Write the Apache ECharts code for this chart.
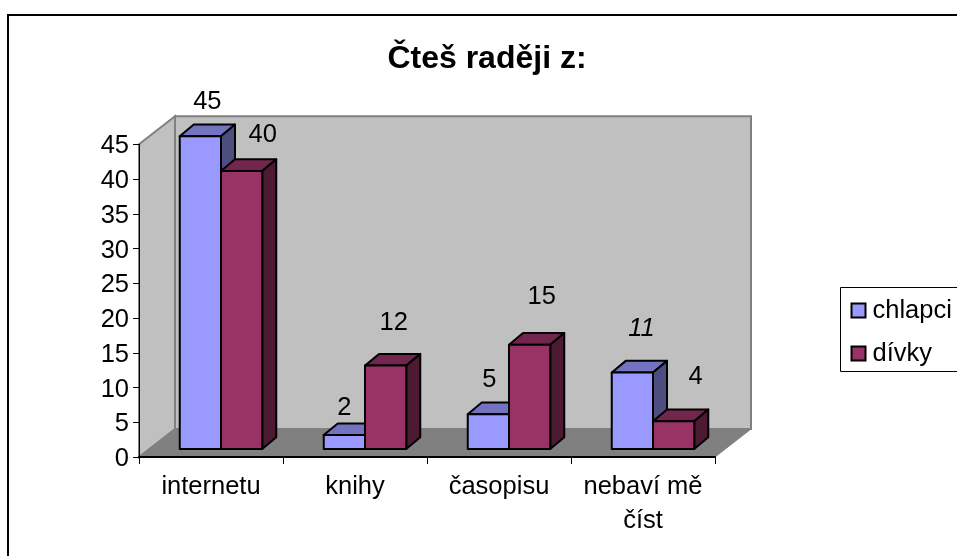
<!DOCTYPE html>
<html>
<head>
<meta charset="utf-8">
<style>html,body{margin:0;padding:0;background:#fff;overflow:hidden}#c{width:957px;height:556px}</style>
<script src="https://cdn.jsdelivr.net/npm/echarts@6/dist/echarts.min.js"></script>
</head>
<body>
<div id="c"></div>
<script>
const categories = ['internetu', 'knihy', 'časopisu', 'nebaví mě\nčíst'];
const chlapci = [45, 2, 5, 11];
const divky = [40, 12, 15, 4];
const seriesNames = ['chlapci', 'dívky'];
const titleText = 'Čteš raději z:';

// Hand-placed data label nudges from the original (dx, dy from top of bar's front face)
const labelNudgeChlapci = [[7, -34], [0, -27], [1, -34], [9, -44]];
const labelNudgeDivky = [[21, -36], [8, -43], [12, -48], [22, -44]];
const italicLabels = { 0: [3], 1: [] };

const FONT = '"Liberation Sans", Arial, sans-serif';
const FS = 25.5;
const WALL_DX = 36, WALL_DY = -28;        // depth of the 3D box
const FLOOR_DX = 10, FLOOR_DY = -8;       // bar front plane, relative to axis plane
const BAR_DX = 14, BAR_DY = -11.7;        // depth of a bar
const BAR_RATIO = 0.2865;

function wallsItem(params) {
  const g = params.coordSys;
  const l = g.x, r = g.x + g.width, t = g.y, b = g.y + g.height;
  const wall = { fill: '#c0c0c0', stroke: '#808080', lineWidth: 2 };
  return {
    type: 'group',
    children: [
      { type: 'polygon', shape: { points: [[l, t], [l + WALL_DX, t + WALL_DY], [l + WALL_DX, b + WALL_DY], [l, b]] }, style: wall },
      { type: 'polygon', shape: { points: [[l + WALL_DX, t + WALL_DY], [r + WALL_DX, t + WALL_DY], [r + WALL_DX, b + WALL_DY], [l + WALL_DX, b + WALL_DY]] }, style: wall },
      { type: 'polygon', shape: { points: [[l, b], [l + WALL_DX, b + WALL_DY], [r + WALL_DX, b + WALL_DY], [r, b]] }, style: { fill: '#808080', stroke: '#808080', lineWidth: 1 } }
    ]
  };
}

function barItem(seriesIdx, colors, nudges) {
  return function (params, api) {
    const idx = api.value(0), val = api.value(1);
    const band = api.size([1, 0])[0];
    const w = band * BAR_RATIO;
    const base = api.coord([idx, 0]);
    const top = api.coord([idx, val]);
    const x0 = base[0] + FLOOR_DX + (seriesIdx - 1) * w;
    const x1 = x0 + w;
    const y0 = base[1] + FLOOR_DY;
    const y1 = top[1] + FLOOR_DY;
    const edge = { stroke: '#000', lineWidth: 2, lineJoin: 'round' };
    const n = nudges[idx];
    return {
      type: 'group',
      children: [
        { type: 'polygon', shape: { points: [[x0, y1], [x0 + BAR_DX, y1 + BAR_DY], [x1 + BAR_DX, y1 + BAR_DY], [x1, y1]] }, style: Object.assign({ fill: colors.top }, edge) },
        { type: 'polygon', shape: { points: [[x1, y1], [x1 + BAR_DX, y1 + BAR_DY], [x1 + BAR_DX, y0 + BAR_DY], [x1, y0]] }, style: Object.assign({ fill: colors.side }, edge) },
        { type: 'rect', shape: { x: x0, y: y1, width: w, height: y0 - y1 }, style: Object.assign({ fill: colors.front }, edge) },
        { type: 'text', x: (x0 + x1) / 2 + n[0], y: y1 + n[1], style: {
            text: String(val), fill: '#000', align: 'center', verticalAlign: 'middle',
            font: (italicLabels[seriesIdx].includes(idx) ? 'italic ' : '') + FS + 'px ' + FONT } }
      ]
    };
  };
}

const blue = { front: '#9999ff', top: '#7373bf', side: '#4d4d80' };
const maroon = { front: '#993366', top: '#73264d', side: '#4d1a33' };

const chart = echarts.init(document.getElementById('c'), null, { renderer: 'canvas' });
chart.setOption({
  animation: false,
  backgroundColor: '#fff',
  tooltip: { show: false },
  title: {
    text: titleText, left: 487, top: 38, textAlign: 'center', padding: [5, 10, 5, 0],
    textStyle: { fontFamily: FONT, fontSize: 32, fontWeight: 'bold', color: '#000' }
  },
  graphic: [{
    type: 'rect', silent: true, z: 100,
    shape: { x: 8, y: 15, width: 1000, height: 600 },
    style: { fill: 'none', stroke: '#000', lineWidth: 2 }
  }],
  legend: {
    data: seriesNames, left: 840.5, top: 287.5, orient: 'vertical', selectedMode: false,
    padding: [10, 40, 5, 10], itemWidth: 14, itemHeight: 14, itemGap: 17,
    icon: 'rect', borderColor: '#000', borderWidth: 1, backgroundColor: '#fff',
    textStyle: { fontFamily: FONT, fontSize: FS, color: '#000', padding: [0, 0, 0, 2] }
  },
  grid: { left: 139, top: 144.3, width: 576, height: 312.7, containLabel: false },
  xAxis: {
    type: 'category', data: categories, z: 5,
    axisLine: { lineStyle: { color: '#000', width: 2 } },
    axisTick: { show: true, length: 7, alignWithLabel: false, lineStyle: { color: '#000', width: 1 } },
    axisLabel: { fontFamily: FONT, fontSize: FS, color: '#000', margin: 13, lineHeight: 34, interval: 0 },
    splitLine: { show: false }
  },
  yAxis: {
    type: 'value', min: 0, max: 45, interval: 5, z: 5,
    axisLine: { show: true, lineStyle: { color: '#000', width: 1 } },
    axisTick: { show: true, length: 6, lineStyle: { color: '#000', width: 1 } },
    axisLabel: { fontFamily: FONT, fontSize: FS, color: '#000', margin: 10, verticalAlign: 'top', lineHeight: 4 },
    splitLine: { show: false }
  },
  series: [
    { type: 'custom', silent: true, z: 1, data: [[0, 0]], encode: { x: 0, y: 1 }, renderItem: wallsItem },
    { type: 'custom', name: seriesNames[0], silent: true, z: 2,
      itemStyle: { color: blue.front, borderColor: '#000', borderWidth: 2 },
      data: chlapci.map((v, i) => [i, v]), encode: { x: 0, y: 1 },
      renderItem: barItem(0, blue, labelNudgeChlapci) },
    { type: 'custom', name: seriesNames[1], silent: true, z: 3,
      itemStyle: { color: maroon.front, borderColor: '#000', borderWidth: 2 },
      data: divky.map((v, i) => [i, v]), encode: { x: 0, y: 1 },
      renderItem: barItem(1, maroon, labelNudgeDivky) }
  ]
});
</script>
</body>
</html>
